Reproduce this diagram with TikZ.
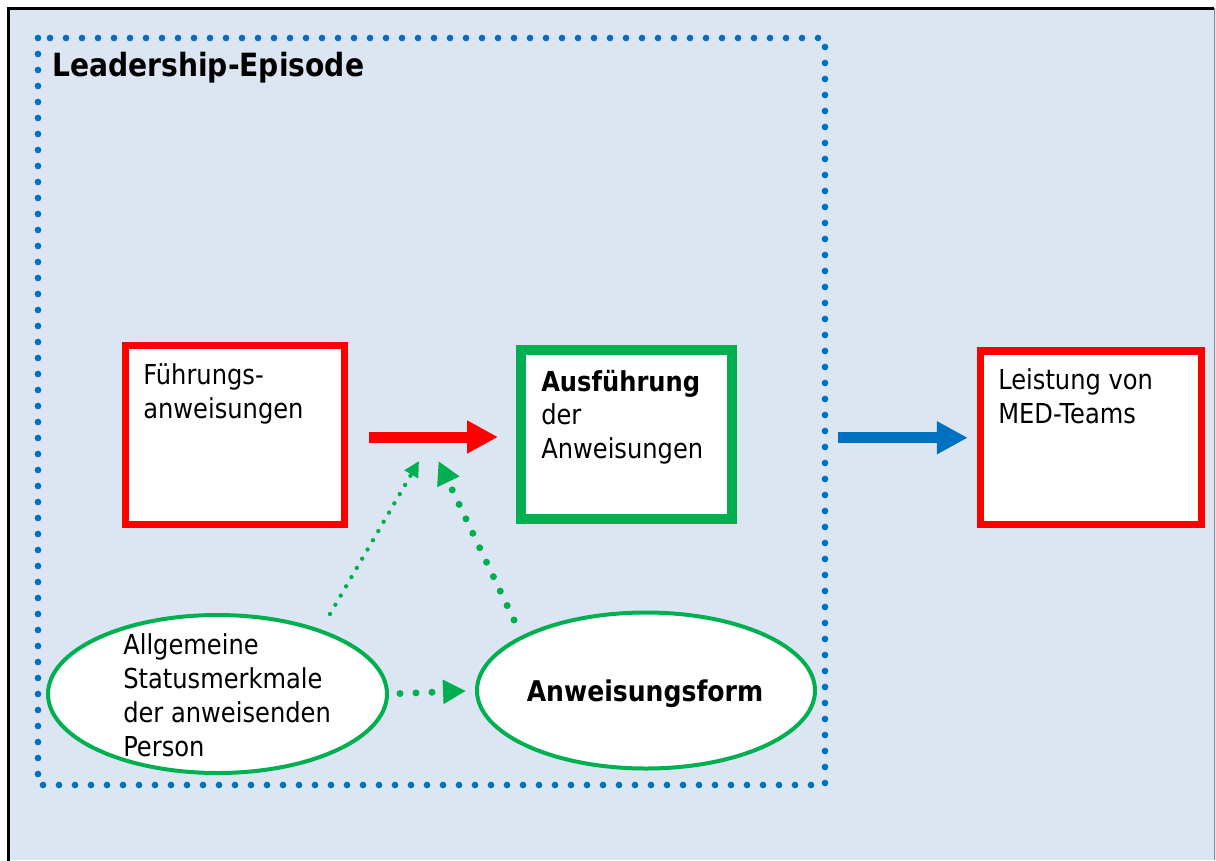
\documentclass[tikz,border=0pt]{standalone}
\usepackage{fontspec}
\setmainfont[FakeStretch=0.88]{DejaVu Sans}
\usetikzlibrary{arrows.meta,shapes.geometric}
\definecolor{bgblue}{HTML}{DCE6F2}
\definecolor{ored}{HTML}{FF0000}
\definecolor{ogreen}{HTML}{00B050}
\definecolor{oblue}{HTML}{0070C0}
\begin{document}
\begin{tikzpicture}[x=0.75pt,y=-0.75pt,
  txt/.style={anchor=base west, inner sep=0pt, align=left, font=\fontsize{20.6}{25}\selectfont},
  redbox/.style={rectangle, draw=ored, line width=5.6pt, fill=white, inner sep=0pt},
  greenbox/.style={rectangle, draw=ogreen, line width=7.5pt, fill=white, inner sep=0pt},
  greenell/.style={ellipse, draw=ogreen, line width=3pt, fill=white, inner sep=0pt},
  bigarrow/.style={line width=8.25pt, -{Triangle[length=23.25pt,width=23.25pt]}},
  bigdots/.style={ogreen, line width=5.25pt, line cap=round, dash pattern=on 0pt off 12pt, -{Triangle[length=17.25pt,width=17.25pt]}},
  smalldots/.style={ogreen, line width=3.3pt, line cap=round, dash pattern=on 0pt off 8pt, -{Triangle[length=11.6pt,width=11.25pt]}},
  episode/.style={oblue, line width=5pt, line cap=round, dash pattern=on 0pt off 12pt}
]
\useasboundingbox (0,0) rectangle (1216,860);
\fill[white] (0,0) rectangle (1216,860);
\fill[bgblue] (8,8) rectangle (1216,860);
\draw[black, line width=2.25pt] (8,862) -- (8,8) -- (1214,8);
\draw[black!45, line width=0.75pt] (1214.5,8) -- (1214.5,860);

% Leadership episode frame
\draw[episode] (38,38) rectangle (825,785);
\node[txt, font=\fontsize{24}{28}\selectfont\bfseries] (title) at (52,76) {Leadership-Episode};

% boxes
\node[redbox, minimum width=164.25pt, minimum height=134.25pt] (fuehr) at (235,435) {};
\node[greenbox, minimum width=158.25pt, minimum height=126.75pt] (ausf) at (626.5,434.5) {};
\node[redbox, minimum width=165.75pt, minimum height=130.1pt] (leist) at (1091,437.75) {};

\node[txt] (fuehrtxt) at (143,418) {Führungs-\\anweisungen};
\node[txt] (ausftxt) at (541,458) {\textbf{Ausführung}\\der\\Anweisungen};
\node[txt] (leisttxt) at (998,423) {Leistung von\\MED-Teams};

% ellipses
\node[greenell, minimum width=254.25pt, minimum height=118.5pt] (status) at (217.5,694) {};
\node[greenell, minimum width=253.5pt, minimum height=117pt] (form) at (646,690.5) {};
\node[txt, font=\fontsize{20.6}{25.5}\selectfont] (statustxt) at (123,756) {Allgemeine\\Statusmerkmale\\der anweisenden\\Person};
\node[txt, anchor=base, font=\fontsize{21.4}{25}\selectfont\bfseries] (formtxt) at (645,701) {Anweisungsform};

% main arrows
\draw[bigarrow, ored, shorten <=15.75pt, shorten >=13.5pt] ([yshift=-1.5pt]fuehr.east) -- ([yshift=-1.5pt]fuehr.east -| ausf.west);
\draw[bigarrow, oblue, shorten <=75.75pt, shorten >=6.75pt] (ausf.east |- leist.west) -- (leist.west);

% influence arrows
\coordinate (s1) at (330,614);
\coordinate (t1) at (419,461);
\coordinate (s2) at (514,620);
\coordinate (t2) at (438.5,461);
\draw[smalldots] (s1) -- (t1);
\draw[bigdots] (s2) -- (t2);
\draw[bigdots, shorten <=8.25pt, shorten >=6.75pt] (status.east) -- (form.west);
\end{tikzpicture}
\end{document}
